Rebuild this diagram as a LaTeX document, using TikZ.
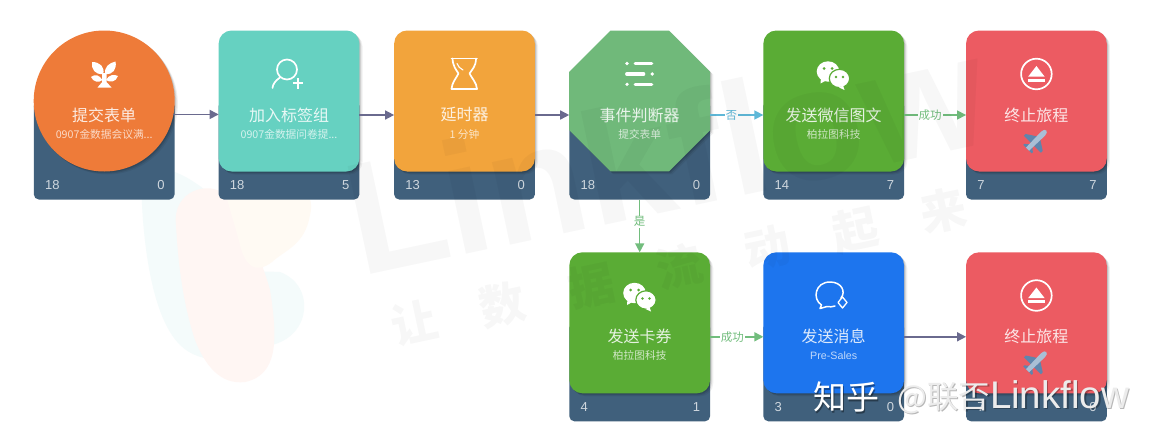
\documentclass[tikz,border=0pt]{standalone}
\usepackage{fontspec}
\setmainfont{Noto Sans CJK SC}
\newfontfamily\latinf{Liberation Sans}
\usetikzlibrary{shapes.geometric,shadows,arrows.meta}
\definecolor{basec}{HTML}{40607C}
\definecolor{orangec}{HTML}{EE7B39}
\definecolor{tealc}{HTML}{66D1C1}
\definecolor{amberc}{HTML}{F2A43C}
\definecolor{lgreenc}{HTML}{70B97A}
\definecolor{greenc}{HTML}{5AAC35}
\definecolor{redc}{HTML}{EC5B62}
\definecolor{bluec}{HTML}{1D75EE}
\definecolor{flowc}{HTML}{6A6A8E}
\definecolor{noc}{HTML}{5FB8D8}
\definecolor{yesc}{HTML}{72BD7D}
\definecolor{blobcyan}{HTML}{F4FBFB}
\definecolor{blobpink}{HTML}{FFF6F3}
\definecolor{bloborange}{HTML}{FFFAF3}
\definecolor{planebody}{HTML}{A9BFD6}
\definecolor{planewing}{HTML}{5F85AD}
\tikzset{
  softshadow/.style={
    general shadow={shadow xshift=1pt,shadow yshift=-1pt,fill=black,opacity=.12},
    general shadow={shadow xshift=2pt,shadow yshift=-2pt,fill=black,opacity=.09},
    general shadow={shadow xshift=3.2pt,shadow yshift=-3pt,fill=black,opacity=.06}},
  basebox/.style={rectangle,rounded corners=5pt,fill=basec,minimum width=140.7pt,minimum height=98.5pt,inner sep=0pt,outer sep=0pt},
  square/.style={rectangle,rounded corners=13pt,minimum width=140.7pt,minimum height=141pt,inner sep=0pt,outer sep=0pt,softshadow},
  roundface/.style={circle,minimum size=141pt,inner sep=0pt,outer sep=0pt,softshadow},
  octaface/.style={regular polygon,regular polygon sides=8,minimum size=152.6pt,inner sep=0pt,outer sep=0pt,softshadow},
  titletext/.style={text=white,text opacity=.85,font=\fontsize{16}{18}\selectfont,inner sep=0pt},
  subtext/.style={text=white,text opacity=.72,font=\fontsize{10.7}{12}\selectfont,inner sep=0pt},
  numtext/.style={text=white,text opacity=.75,font=\latinf\fontsize{13}{15}\selectfont,inner sep=0pt},
  flow/.style={line width=1.5pt,draw=flowc,-{Triangle[length=9pt,width=9pt]}},
  nolink/.style={flow,draw=noc},
  yeslink/.style={flow,draw=yesc},
  linklabel/.style={fill=white,inner xsep=1pt,inner ysep=0pt,font=\fontsize{11.5}{13}\selectfont},
  iconline/.style={draw=white,line width=1.7pt,line cap=round,line join=round},
  wmtext/.style={text=black,text opacity=.03,inner sep=0pt,anchor=center},
  zhmain/.style={text=white,font=\fontsize{33}{36}\selectfont,inner sep=0pt},
  zhmainb/.style={text=white!85!gray,font=\fontsize{31.5}{36}\selectfont,inner sep=0pt},
  zhshadow/.style={text=black,text opacity=.38,font=\fontsize{33}{36}\selectfont,inner sep=0pt},
  zhshadowb/.style={text=black,text opacity=.28,font=\fontsize{31.5}{36}\selectfont,inner sep=0pt},
}
% id, centre x, row shift, face colour, face style, title, sub, left, right
\newcommand{\cardnode}[9]{%
  \node[basebox] (b#1) at (#2,150.25+#3) {};
  \node[#5,fill=#4] (f#1) at (#2,101+#3) {};
  \node[titletext] (t#1) at (#2,115+#3) {#6};
  \node[numtext,anchor=west] (l#1) at (#2-59.3,185.5+#3) {#8};
  \node[numtext,anchor=east] (r#1) at (#2+60.5,185.5+#3) {#9};
  \node[subtext] (s#1) at (#2,134+#3) {#7};
}
\newcommand{\wechaticon}[2]{%
  \begin{scope}[shift={(#1)}]
    \fill[white] (0,0) ellipse (11.3 and 10.2);
    \fill[white] (-7,6) -- (-7.5,12) -- (-2,9) -- cycle;
    \fill[#2] (-4,-3) circle (1.5) (4,-3) circle (1.5);
    \fill[white,draw=#2,line width=1.2pt] (11.5,7) ellipse (10.2 and 9.2);
    \fill[white] (15,14) -- (16.5,18.5) -- (11,16) -- cycle;
    \fill[#2] (8,5.5) circle (1.3) (15,5.5) circle (1.3);
  \end{scope}}
\newcommand{\ejecticon}[1]{%
  \begin{scope}[shift={(#1)}]
    \draw[iconline] (0,0) circle (15.3);
    \fill[white] (0,-8) -- (8.2,2.6) -- (-8.2,2.6) -- cycle;
    \fill[white] (-8.2,4.8) rectangle (8.2,7.6);
  \end{scope}}
\newcommand{\planeicon}[1]{%
  \begin{scope}[shift={(#1)},rotate=-45]
    \fill[planewing] (-2,-3) -- (-12,3.5) -- (-12,6) -- (12,6) -- (12,3.5) -- (2,-3) -- cycle;
    \fill[planewing] (-2,8) -- (-6,11.5) -- (-6,13) -- (6,13) -- (6,11.5) -- (2,8) -- cycle;
    \fill[planebody] (-2.8,-9) .. controls (-2.8,-15) and (2.8,-15) .. (2.8,-9) -- (2.2,13) -- (-2.2,13) -- cycle;
  \end{scope}}
\begin{document}
\begin{tikzpicture}[x=1pt,y=-1pt]
\useasboundingbox (0,0) rectangle (1150,434);
\fill[white] (0,0) rectangle (1150,434);
% faint logo blobs
\fill[blobcyan] (142,205) .. controls (138,150) and (180,170) .. (205,190)
   .. controls (225,280) and (245,270) .. (280,272)
   .. controls (315,285) and (312,335) .. (272,345)
   .. controls (240,365) and (200,365) .. (180,345)
   .. controls (155,320) and (145,260) .. (142,205) -- cycle;
\fill[blobpink] (176,225) .. controls (172,190) and (210,180) .. (225,195)
   .. controls (240,210) and (262,260) .. (270,290)
   .. controls (278,340) and (278,375) .. (245,382)
   .. controls (220,385) and (205,365) .. (195,340)
   .. controls (182,300) and (178,260) .. (176,225) -- cycle;
\fill[bloborange] (225,190) .. controls (260,170) and (320,175) .. (310,215)
   .. controls (305,245) and (285,250) .. (272,262)
   .. controls (255,275) and (245,265) .. (240,245)
   .. controls (235,225) and (228,205) .. (225,190) -- cycle;
% cards
\cardnode{1}{104.2}{0}{orangec}{roundface}{提交表单}{0907金数据会议满...}{18}{0}
\cardnode{2}{289}{0}{tealc}{square}{加入标签组}{0907金数据问卷提...}{18}{5}
\cardnode{3}{464.5}{0}{amberc}{square}{延时器}{1 分钟}{13}{0}
\cardnode{4}{639.7}{0}{lgreenc}{octaface}{事件判断器}{提交表单}{18}{0}
\cardnode{5}{833.7}{0}{greenc}{square}{发送微信图文}{柏拉图科技}{14}{7}
\cardnode{6}{1036.4}{0}{redc}{square}{终止旅程}{}{7}{7}
\cardnode{7}{639.7}{221.8}{greenc}{square}{发送卡券}{柏拉图科技}{4}{1}
\cardnode{8}{833.7}{221.8}{bluec}{square}{发送消息}{\latinf Pre-Sales}{3}{0}
\cardnode{9}{1036.4}{221.8}{redc}{square}{终止旅程}{}{7}{0}
% connectors
\draw[flow] (f1.-11.5) -- (f2.west |- f1.-11.5);
\draw[flow] (f2.east |- t2) -- (f3.west |- t3);
\draw[flow] (f3.east |- t3) -- (f4.west |- t4);
\draw[nolink] (f4.east |- t4) -- node[linklabel,text=noc,pos=.4,inner xsep=.5pt] {否} (f5.west |- t5);
\draw[yeslink] (f5.east |- t5) -- node[linklabel,text=yesc,pos=.42] {成功} (f6.west |- t6);
\draw[yeslink] (b4.south) -- node[linklabel,text=yesc,pos=.42,inner xsep=0pt,inner ysep=1pt] {是} (f7.north);
\draw[yeslink] (f7.east |- t7) -- node[linklabel,text=yesc,pos=.42] {成功} (f8.west |- t8);
\draw[flow] (f8.east |- t8) -- (f9.west |- t9);
% sprout
\begin{scope}[shift={(104,75)}]
  \fill[white] (-1.8,-2) -- (-1.8,7) -- (-6.5,12.5) -- (7.5,12.5) -- (2.5,7) -- (2.5,-2) -- cycle;
  \fill[white] (-0.8,-1) .. controls (-9,0) and (-13,-6) .. (-12,-13) .. controls (-4,-13) and (1,-8) .. (-0.8,-1) -- cycle;
  \fill[white] (1.2,-1) .. controls (0,-8) and (5,-12) .. (11.5,-13.5) .. controls (13,-6) and (9,0) .. (1.2,-1) -- cycle;
  \fill[white] (-1.5,5) .. controls (-5,-0.5) and (-9,-1) .. (-13,2) .. controls (-11,7) and (-5,8) .. (-1.5,5) -- cycle;
  \fill[white] (2,5) .. controls (5,-0.5) and (10,-1) .. (14,1) .. controls (12,7) and (6,8) .. (2,5) -- cycle;
\end{scope}
% person plus
\begin{scope}[shift={(287,70)}]
  \draw[iconline] (0,-0.5) circle (10);
  \draw[iconline] (-7,7.5) .. controls (-12,11) and (-14,14) .. (-14.5,18);
  \draw[iconline,line width=2pt,line cap=butt] (11,8) -- (11,18.5) (5.8,13.2) -- (16.2,13.2);
\end{scope}
% hourglass
\begin{scope}[shift={(464,73.5)}]
  \draw[iconline] (-12.5,-15) -- (13,-15) (-12.5,15.5) -- (13,15.5);
  \draw[iconline] (-11.5,-15) .. controls (-11,-7) and (-8,-4) .. (-5.5,0)
      .. controls (-8,5) and (-12,9) .. (-12.5,15.5);
  \draw[iconline] (12,-15) .. controls (12,-7) and (8,-4) .. (5.5,0)
      .. controls (8,5) and (12.5,9) .. (13,15.5);
  \draw[iconline,line width=1.1pt] (-7,-10) .. controls (-6,-7) and (-4,-5) .. (-1,-3.5);
\end{scope}
% list
\begin{scope}[shift={(639.7,74)}]
  \draw[draw=white,line width=3.2pt,line cap=round]
     (-4.5,-10.5) -- (12,-10.5) (-13,0) -- (4,0) (-4.5,10.3) -- (12,10.3);
  \fill[white] (-12.7,-10.5) circle (1.8) (12.5,0) circle (1.8) (-12.7,10.3) circle (1.8);
\end{scope}
\wechaticon{828,71.5}{greenc}
\ejecticon{1036.4,74}
\planeicon{1036.7,140}
\wechaticon{634.5,293}{greenc}
% chat bubble
\begin{scope}[shift={(830,294)}]
  \draw[iconline,line width=1.5pt] (-8.5,11) .. controls (-18,5) and (-15,-12) .. (0,-12)
     .. controls (12,-12) and (16,-2) .. (11,4)
     (-8.5,11) -- (-10,14.5) -- (-3,12.5) .. controls (0,13) and (2,13) .. (5,12);
  \draw[iconline,line width=1.3pt] (12.5,3) -- (17,8.5) -- (12.5,14) -- (8,8.5) -- cycle;
\end{scope}
\ejecticon{1036.4,295.5}
\planeicon{1036.7,361.5}
% background watermark, over everything at a very low opacity
\node[wmtext,font=\latinf\bfseries\fontsize{160}{170}\selectfont,anchor=base west,rotate=12] (wm1) at (360,277) {Linkflow};
\node[wmtext,font=\bfseries\fontsize{46}{50}\selectfont,rotate=12] (wm2) at (679,267)
   {让\hspace{44pt}数\hspace{44pt}据\hspace{44pt}流\hspace{44pt}动\hspace{44pt}起\hspace{44pt}来};
% zhihu stamp
\node[zhshadow,anchor=west] (zs1) at (814.5,398.5) {知乎};
\node[zhshadowb,anchor=west] (zs2) at (898.5,398.5) {@联否{\latinf\fontsize{38.5}{41}\selectfont Linkflow}};
\node[zhmain,anchor=west] (z1) at (813,397) {知乎};
\node[zhmainb,anchor=west] (z2) at (897,397) {@联否{\latinf\fontsize{38.5}{41}\selectfont Linkflow}};
\end{tikzpicture}
\end{document}
